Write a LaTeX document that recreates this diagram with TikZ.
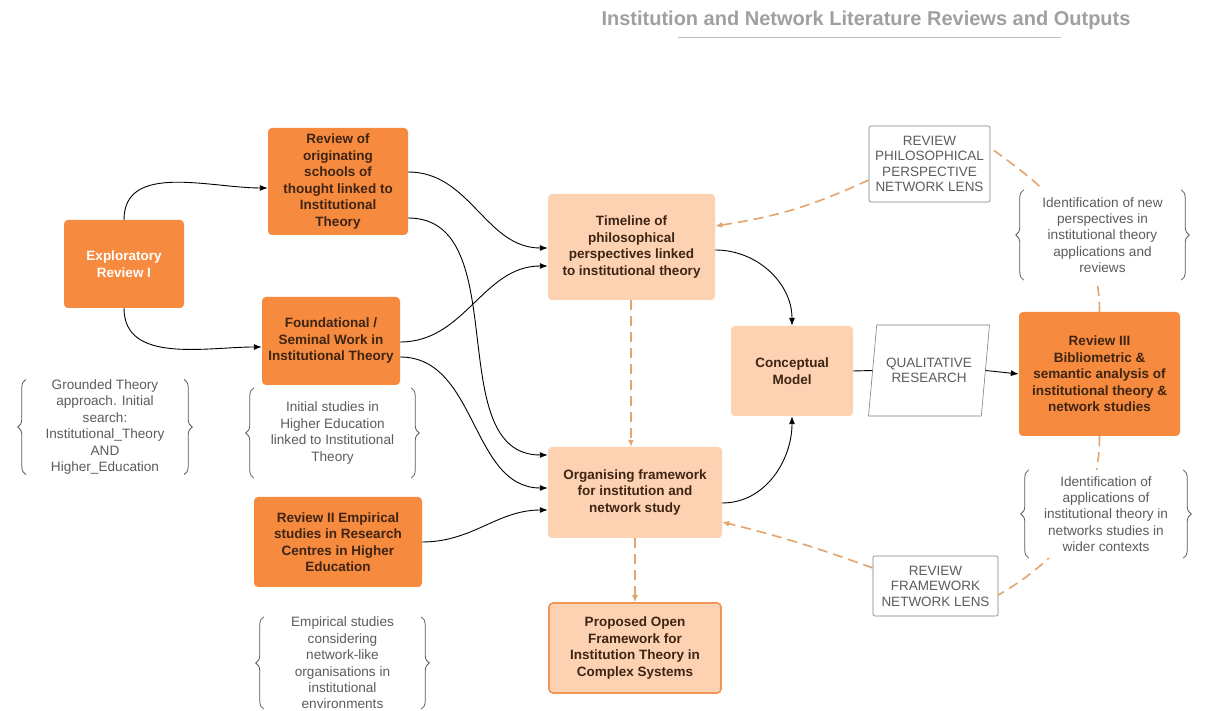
\documentclass[tikz,border=0pt]{standalone}
\usepackage{fontspec}
\setmainfont{Liberation Sans}
\usetikzlibrary{arrows.meta,shapes.geometric,decorations.pathreplacing}

\definecolor{deeporange}{HTML}{F68A3E}
\definecolor{peach}{HTML}{FDD2B3}
\definecolor{peachedge}{HTML}{EE9655}
\definecolor{dashorange}{HTML}{E3A46F}
\definecolor{boxtext}{HTML}{3E2412}
\definecolor{notegrey}{HTML}{5C5C5C}
\definecolor{titlegrey}{HTML}{A0A0A0}

\tikzset{
  base/.style={rounded corners=4pt, align=center, inner sep=0pt,
    font=\fontsize{13.5}{16.5}\selectfont\bfseries, text=boxtext},
  darkbox/.style={base, fill=deeporange},
  lightbox/.style={base, fill=peach},
  outlinebox/.style={draw=notegrey!80, rounded corners=2pt, align=center,
    inner sep=0pt, line width=0.6pt,
    font=\fontsize{13.5}{15.5}\selectfont, text=notegrey},
  note/.style={align=center, fill=white, inner sep=0pt,
    font=\fontsize{13.6}{16.4}\selectfont, text=notegrey},
  flow/.style={draw=black, line width=0.9pt, -{Latex[length=8pt,width=6pt]}},
  plainflow/.style={draw=black, line width=0.9pt},
  dashflow/.style={draw=dashorange, line width=1.6pt,
    dash pattern=on 10pt off 6pt, -{Latex[length=7pt,width=6pt]}},
  dashplain/.style={draw=dashorange, line width=1.6pt, dash pattern=on 10pt off 6pt},
  bracel/.style={draw=notegrey, line width=0.8pt, decorate,
    decoration={brace, amplitude=8pt}},
}

\begin{document}
\begin{tikzpicture}[x=1pt, y=1pt]
\useasboundingbox (0,0) rectangle (1208,711);
\fill[white] (0,0) rectangle (1208,711);

% heading
\node[font=\fontsize{20}{24}\selectfont\bfseries, text=titlegrey] (title) at (866,691)
  {Institution and Network Literature Reviews and Outputs};
\draw[titlegrey!70, line width=1pt] (678,673) -- (1061,673);

% left column
\node[darkbox, text=white, minimum width=120pt, minimum height=88pt] (ex) at (124,447)
  {Exploratory\\Review I};
\node[darkbox, minimum width=140pt, minimum height=107pt] (ro) at (338,529.5)
  {Review of\\originating\\schools of\\thought linked to\\Institutional\\Theory};
\node[darkbox, minimum width=138pt, minimum height=88pt] (fd) at (331,370)
  {Foundational /\\Seminal Work in\\Institutional Theory};
\node[darkbox, minimum width=168pt, minimum height=90pt] (r2) at (338,169)
  {Review II Empirical\\studies in Research\\Centres in Higher\\Education};

% centre column
\node[lightbox, minimum width=167pt, minimum height=106pt] (tl) at (631.5,464)
  {Timeline of\\philosophical\\perspectives linked\\to institutional theory};
\node[lightbox, minimum width=174pt, minimum height=91pt] (of) at (635,218.5)
  {Organising framework\\for institution and\\network study};
\node[lightbox, draw=peachedge, line width=1.6pt, minimum width=172pt, minimum height=90pt] (po) at (635,63)
  {Proposed Open\\Framework for\\Institution Theory in\\Complex Systems};
\node[lightbox, minimum width=122pt, minimum height=90pt] (cm) at (792,340)
  {Conceptual\\Model};

% right column
\node[trapezium, trapezium left angle=75, trapezium right angle=105, trapezium stretches=true,
  draw=notegrey!80, line width=0.6pt, align=center, inner sep=0pt,
  minimum width=122pt, minimum height=91pt,
  font=\fontsize{13.5}{15.5}\selectfont, text=notegrey] (qr) at (929,340.5)
  {QUALITATIVE\\RESEARCH};
\node[darkbox, minimum width=161pt, minimum height=124pt] (r3) at (1099.5,337)
  {Review III\\Bibliometric \&\\semantic analysis of\\institutional theory \&\\network studies};
\node[outlinebox, minimum width=121pt, minimum height=76pt] (rp) at (929.5,547)
  {REVIEW\\PHILOSOPHICAL\\PERSPECTIVE\\NETWORK LENS};
\node[outlinebox, minimum width=125pt, minimum height=60pt] (rf) at (935.5,125)
  {REVIEW\\FRAMEWORK\\NETWORK LENS};

% solid flow
\draw[flow] (ex.north) to[out=90,in=180] ([yshift=-6.5pt]ro.west);
\draw[flow] (ex.south) to[out=-90,in=180] ([yshift=-6pt]fd.west);
\draw[flow] ([yshift=9.5pt]ro.east) to[out=0,in=180] ([yshift=-1pt]tl.west);
\draw[flow] ([yshift=-36.5pt]ro.east) to[out=0,in=180] ([yshift=37.5pt]of.west);
\draw[flow] ([yshift=-1pt]fd.east) to[out=0,in=180] ([yshift=-19pt]tl.west);
\draw[flow] ([yshift=-16pt]fd.east) to[out=0,in=180] ([yshift=4.5pt]of.west);
\draw[flow] (r2.east) to[out=0,in=180] ([yshift=-17.5pt]of.west);
\draw[flow] ([yshift=-3pt]tl.east) to[out=0,in=90] (cm.north);
\draw[flow] ([yshift=-10.5pt]of.east) to[out=0,in=-90] (cm.south);
\draw[plainflow] (cm.east) -- (qr.west);
\draw[flow] (qr.east) -- (r3.west);

% dashed review paths
\draw[dashflow] ([xshift=-0.5pt]tl.south) -- ([xshift=-0.5pt]tl.south |- of.north);
\draw[dashflow] (of.south) -- (po.north);
\draw[dashflow] ([yshift=-16pt]rp.west) to[bend left=8] ([yshift=21pt]tl.east);
\draw[dashplain] (r3.north) to[out=90,in=-35] ([yshift=16pt]rp.east);
\draw[dashplain] (r3.south) to[out=-90,in=30] ([yshift=-9pt]rf.east);
\draw[dashflow] ([yshift=18pt]rf.west) to[bend right=3] ([yshift=-29.5pt]of.east);

% bracketed notes
\node[note, minimum width=158pt, minimum height=91pt] (gt) at (105,284)
  {Grounded Theory\\approach. Initial\\search:\\Institutional\_Theory\\AND\\Higher\_Education};
\node[note, minimum width=157pt, minimum height=90pt] (is) at (332.5,278)
  {Initial studies in\\Higher Education\\linked to Institutional\\Theory};
\node[note, minimum width=157pt, minimum height=92pt] (es) at (342.5,48)
  {Empirical studies\\considering\\network-like\\organisations in\\institutional\\environments};
\node[note, minimum width=157pt, minimum height=90pt] (np) at (1102.5,476)
  {Identification of new\\perspectives in\\institutional theory\\applications and\\reviews};
\node[note, minimum width=154pt, minimum height=88pt] (ap) at (1106,197)
  {Identification of\\applications of\\institutional theory in\\networks studies in\\wider contexts};

\foreach \n in {gt,is,es,np,ap}{
  \draw[bracel] (\n.south west) -- (\n.north west);
  \draw[bracel] (\n.north east) -- (\n.south east);
}
\end{tikzpicture}
\end{document}
